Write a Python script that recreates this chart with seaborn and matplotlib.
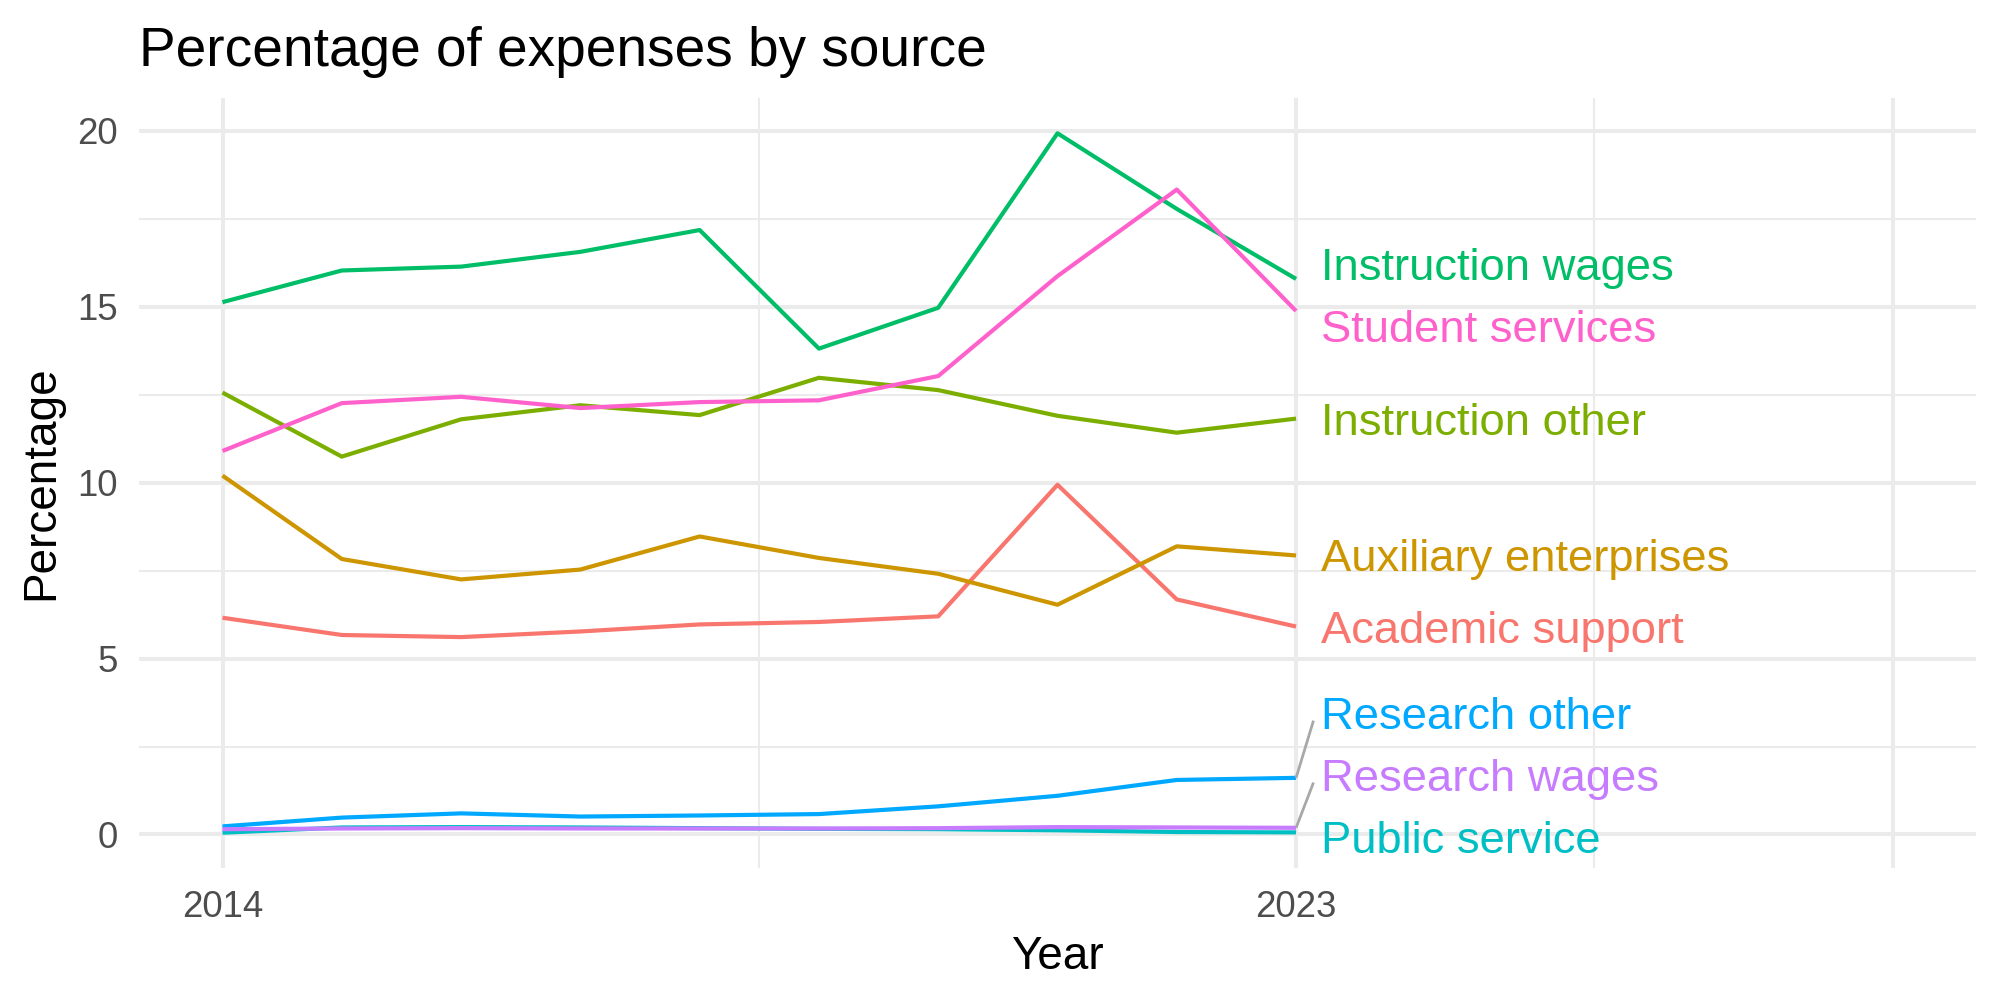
import pandas as pd
import numpy as np
import matplotlib
matplotlib.use("Agg")
import matplotlib.pyplot as plt
import seaborn as sns

# values (percent of expenses)
years = list(range(2014, 2024))
academic_support = [6.16, 5.67, 5.61, 5.77, 5.97, 6.04, 6.20, 9.94, 6.68, 5.91]
auxiliary_enterprises = [10.20, 7.83, 7.25, 7.53, 8.47, 7.86, 7.41, 6.53, 8.19, 7.93]
instruction_other = [12.56, 10.74, 11.80, 12.20, 11.92, 12.98, 12.63, 11.90, 11.42, 11.82]
instruction_wages = [15.13, 16.03, 16.14, 16.56, 17.18, 13.81, 14.97, 19.93, 17.78, 15.79]
public_service = [0.05, 0.20, 0.21, 0.20, 0.18, 0.16, 0.15, 0.12, 0.07, 0.06]
research_other = [0.23, 0.48, 0.60, 0.51, 0.54, 0.58, 0.80, 1.10, 1.55, 1.61]
research_wages = [0.15, 0.17, 0.18, 0.17, 0.17, 0.17, 0.18, 0.21, 0.20, 0.19]
student_services = [10.90, 12.26, 12.44, 12.12, 12.29, 12.34, 13.03, 15.87, 18.33, 14.88]

sources = ["Academic support", "Auxiliary enterprises", "Instruction other",
           "Instruction wages", "Public service", "Research other",
           "Research wages", "Student services"]
series = [academic_support, auxiliary_enterprises, instruction_other,
          instruction_wages, public_service, research_other,
          research_wages, student_services]
# ggplot default hue palette for 8 groups
colors = ["#F8766D", "#CD9600", "#7CAE00", "#00BE67",
          "#00BFC4", "#00A9FF", "#C77CFF", "#FF61CC"]
palette = dict(zip(sources, colors))

df = pd.DataFrame(
    [(y, s, v) for s, vals in zip(sources, series) for y, v in zip(years, vals)],
    columns=["Year", "Source", "Percentage"],
)

sns.set_theme(style="white")
plt.rcParams["font.family"] = ["Liberation Sans", "DejaVu Sans"]

fig = plt.figure(figsize=(20, 10), dpi=100)
ax = fig.add_axes([0.0695, 0.1323, 0.9185, 0.7694])

sns.lineplot(data=df, x="Year", y="Percentage", hue="Source",
             hue_order=sources, palette=palette, estimator=None,
             linewidth=3.0, legend=False, ax=ax, solid_capstyle="butt")

# axis ranges like ggplot's 5% expansion
ymin, ymax = df["Percentage"].min(), df["Percentage"].max()
yr = ymax - ymin
ax.set_ylim(ymin - 0.05 * yr, ymax + 0.05 * yr)
ax.set_xlim(2014 - 0.7, 2028 + 0.7)

ax.set_xticks([2014, 2023, 2028])
ax.set_xticklabels(["2014", "2023", ""])
ax.set_xticks([2018.5, 2025.5], minor=True)
ax.set_yticks([0, 5, 10, 15, 20])
ax.set_yticks([2.5, 7.5, 12.5, 17.5], minor=True)

ax.grid(True, which="major", color="#EBEBEB", linewidth=2.9, zorder=0)
ax.grid(True, which="minor", color="#EBEBEB", linewidth=1.45, zorder=0)
ax.set_axisbelow(True)
for sp in ax.spines.values():
    sp.set_visible(False)
ax.tick_params(axis="both", which="both", length=0, labelsize=26.4,
               labelcolor="#4D4D4D")
ax.tick_params(axis="y", pad=15)
ax.tick_params(axis="x", pad=16)

ax.set_xlabel("Year", fontsize=33, color="black", labelpad=7)
ax.set_ylabel("Percentage", fontsize=33, color="black", labelpad=10)
ax.set_title("Percentage of expenses by source", fontsize=39.6, loc="left",
             pad=23, color="black")

# end labels, spread apart so they do not overlap (simple repel)
ends = [vals[-1] for vals in series]
order = np.argsort(ends)
gap, floor = 1.76, ymin - 0.05 * yr + 0.88
clusters = [[i] for i in order]


def place(cl):
    c = np.mean([ends[i] for i in cl])
    pos = [c + (k - (len(cl) - 1) / 2) * gap for k in range(len(cl))]
    shift = max(0, floor - pos[0])
    return [p + shift for p in pos]


changed = True
while changed:
    changed = False
    for k in range(len(clusters) - 1):
        lo, hi = place(clusters[k]), place(clusters[k + 1])
        if hi[0] - lo[-1] < gap:
            clusters[k] = clusters[k] + clusters[k + 1]
            del clusters[k + 1]
            changed = True
            break

label_y = {}
for cl in clusters:
    for i, p in zip(cl, place(cl)):
        label_y[i] = p

last = years[-1]
for i, name in enumerate(sources):
    ly = label_y[i]
    ax.text(last + 0.21, ly, name, color=colors[i], fontsize=32.7,
            ha="left", va="center_baseline", zorder=5)
    if abs(ly - ends[i]) > 1.0:
        ax.plot([last, last + 0.146], [ends[i], ly - 0.22],
                color="#A8A8A8", linewidth=2.0, solid_capstyle="butt",
                zorder=4)

fig.savefig("out.png", dpi=100)
